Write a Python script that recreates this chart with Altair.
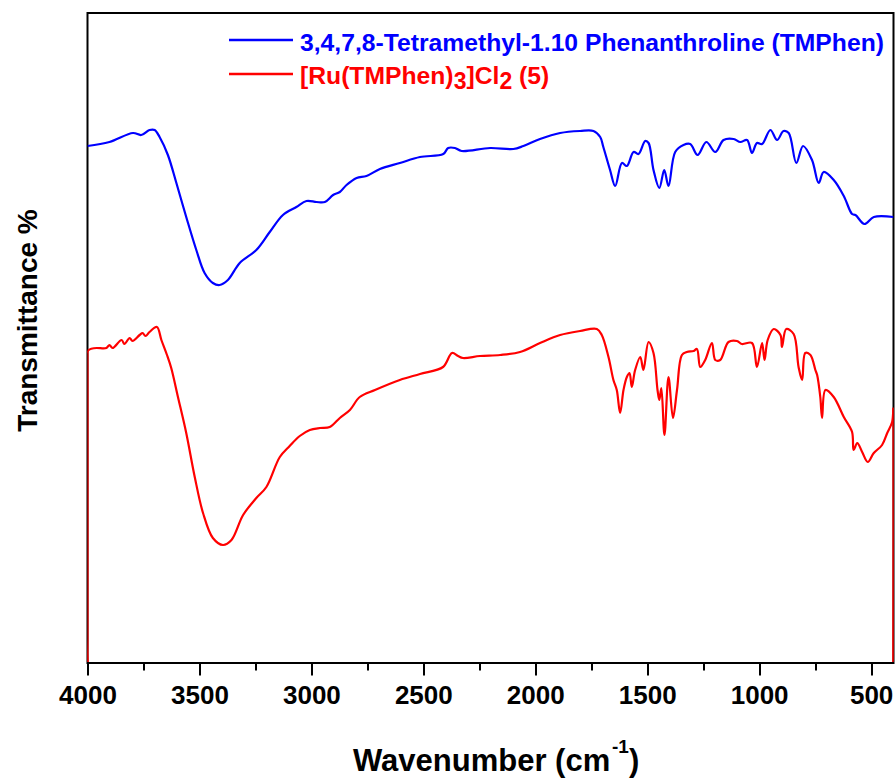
import altair as alt
import pandas as pd

# FTIR spectra: free ligand (upper trace) and its Ru(II) complex (lower trace)
SERIES = [
    "3,4,7,8-Tetramethyl-1.10 Phenanthroline (TMPhen)",
    "[Ru(TMPhen)3]Cl2 (5)",
]
COLORS = ["#0000ff", "#ff0000"]

tmphen_wn = [4000, 3902, 3797, 3760, 3723, 3700, 3678, 3641, 3603, 3559,
             3514, 3477, 3440, 3410, 3373, 3320, 3246, 3186, 3127, 3067,
             3022, 2977, 2940, 2903, 2873, 2843, 2798, 2754, 2694, 2605,
             2515, 2411, 2389, 2359, 2329, 2202, 2098, 2053, 1979, 1889,
             1800, 1740, 1710, 1696, 1666, 1643, 1613, 1591, 1561, 1539,
             1509, 1494, 1472, 1446, 1424, 1405, 1375, 1338, 1308, 1275,
             1236, 1196, 1159, 1114, 1084, 1054, 1032, 1010, 987, 950,
             920, 891, 868, 834, 804, 764, 734, 712, 667, 622,
             585, 570, 530, 488, 400]
tmphen_t = [51.6, 52.0, 52.9, 52.7, 53.2, 53.2, 52.5, 50.7, 47.9, 44.5,
            41.2, 38.9, 37.9, 37.7, 38.2, 39.9, 41.2, 43.0, 44.7, 45.5,
            46.1, 46.0, 46.0, 46.7, 47.0, 47.7, 48.4, 48.6, 49.3, 49.9,
            50.5, 50.8, 51.4, 51.4, 51.1, 51.4, 51.3, 51.6, 52.3, 52.9,
            53.1, 53.1, 52.5, 51.5, 49.2, 47.6, 49.9, 49.6, 51.0, 50.8,
            52.1, 51.9, 49.2, 47.4, 49.2, 47.6, 51.0, 51.7, 51.8, 50.7,
            52.0, 51.0, 52.2, 52.3, 52.0, 52.2, 50.9, 51.9, 51.8, 53.2,
            52.2, 53.1, 52.9, 49.9, 51.6, 50.2, 47.9, 49.0, 48.2, 46.6,
            44.8, 44.7, 43.8, 44.5, 44.5]

complex_wn = [4000, 4000, 3916, 3902, 3888, 3848, 3835, 3812, 3799, 3767,
              3754, 3741, 3723, 3690, 3670, 3645, 3626, 3596, 3559, 3521,
              3484, 3440, 3395, 3357, 3305, 3246, 3201, 3141, 3097, 3052,
              3007, 2962, 2918, 2873, 2828, 2784, 2716, 2605, 2515, 2412,
              2372, 2345, 2323, 2247, 2157, 2068, 1979, 1889, 1800, 1725,
              1703, 1673, 1651, 1636, 1621, 1606, 1591, 1579, 1569, 1554,
              1531, 1517, 1494, 1472, 1454, 1446, 1437, 1423, 1405, 1385,
              1367, 1345, 1323, 1293, 1278, 1263, 1241, 1211, 1196, 1174,
              1137, 1099, 1077, 1032, 1010, 987, 976, 962, 935, 905,
              898, 879, 846, 824, 808, 794, 771, 749, 741, 727,
              719, 704, 667, 622, 585, 578, 562, 540, 515, 488,
              451, 428, 406, 400, 400]
complex_t = [0.0, 31.1, 31.4, 31.7, 31.4, 32.2, 31.8, 32.4, 32.1, 32.7,
             32.9, 32.6, 33.0, 33.5, 32.2, 30.7, 29.4, 26.5, 22.9, 18.5,
             14.9, 12.4, 11.7, 12.2, 14.7, 16.4, 17.5, 20.5, 21.6, 22.6,
             23.2, 23.4, 23.5, 24.4, 25.2, 26.5, 27.2, 28.2, 28.8, 29.5,
             30.9, 30.6, 30.4, 30.6, 30.7, 31.0, 31.9, 32.7, 33.1, 33.3,
             32.7, 30.5, 28.2, 27.2, 24.9, 27.2, 28.5, 28.9, 27.5, 29.2,
             30.5, 29.2, 32.0, 30.9, 27.2, 26.2, 27.4, 22.7, 28.5, 24.4,
             27.2, 30.7, 31.0, 31.1, 31.3, 29.5, 30.2, 31.9, 30.2, 30.2,
             32.0, 32.1, 31.8, 31.9, 29.5, 31.9, 30.2, 32.2, 33.3, 32.7,
             31.5, 33.3, 32.8, 29.5, 28.2, 30.9, 30.7, 29.2, 28.7, 26.5,
             24.4, 27.2, 26.5, 24.5, 23.0, 21.2, 21.9, 21.0, 20.0, 20.9,
             21.7, 22.9, 24.0, 25.4, 0.0]

MAJOR_TICKS = [4000, 3500, 3000, 2500, 2000, 1500, 1000, 500]
MINOR_TICKS = [3750, 3250, 2750, 2250, 1750, 1250, 750]

FONT = "Liberation Sans"
W, H = 806, 650
LEFT, TOP = 87.5, 13

ligand = pd.DataFrame({"wavenumber": tmphen_wn, "transmittance": tmphen_t,
                       "series": SERIES[0], "idx": range(len(tmphen_wn))})
complex_ = pd.DataFrame({"wavenumber": complex_wn, "transmittance": complex_t,
                         "series": SERIES[1], "idx": range(len(complex_wn))})
last = len(complex_wn) - 1

x_scale = alt.Scale(domain=[4000, 400], nice=False, zero=False)
y_scale = alt.Scale(domain=[-0.1, 64.9], nice=False, zero=False)
color_scale = alt.Scale(domain=SERIES, range=COLORS)

major_axis = alt.Axis(values=MAJOR_TICKS, orient="bottom", title=None, grid=False,
                      format="d", domain=False, tickSize=12, tickWidth=2,
                      tickColor="black", labelFont=FONT, labelFontSize=26,
                      labelFontWeight="bold", labelColor="black", labelPadding=7,
                      labelFlush=False, labelOverlap=False, labelBound=False)
minor_axis = alt.Axis(values=MINOR_TICKS, orient="bottom", title=None, grid=False,
                      domain=False, tickSize=7, tickWidth=2, tickColor="black",
                      labels=False)


def trace(df, axis):
    return alt.Chart(df).mark_line(
        strokeWidth=2.2, clip=True, interpolate="catmull-rom"
    ).encode(
        x=alt.X("wavenumber:Q", scale=x_scale, axis=axis),
        y=alt.Y("transmittance:Q", scale=y_scale, axis=None),
        color=alt.Color("series:N", scale=color_scale, legend=None),
        order=alt.Order("idx:Q"),
    )


# straight drops of the complex's trace at both ends of the scan
edges = alt.Chart(complex_).transform_filter(
    f"datum.idx <= 1 || datum.idx >= {last - 1}"
).transform_calculate(
    end="datum.idx <= 1 ? 'start' : 'end'"
).mark_line(strokeWidth=2.2, clip=True).encode(
    x=alt.X("wavenumber:Q", scale=x_scale, axis=None),
    y=alt.Y("transmittance:Q", scale=y_scale, axis=None),
    color=alt.Color("series:N", scale=color_scale, legend=None),
    detail="end:N",
    order=alt.Order("idx:Q"),
)


def text(label, x, y, size, color="black", angle=0, align="left"):
    return alt.Chart(pd.DataFrame({"label": [label]})).mark_text(
        font=FONT, fontSize=size, fontWeight="bold", color=color,
        align=align, baseline="alphabetic", angle=angle,
    ).encode(text="label:N", x=alt.value(x), y=alt.value(y))


def swatch(color, y):
    return alt.Chart(pd.DataFrame({"c": [color]})).mark_rule(
        color=color, strokeWidth=2.5
    ).encode(x=alt.value(229 - LEFT), x2=alt.value(293 - LEFT), y=alt.value(y))


# legend entries (the complex's formula carries subscripts)
leg_x = 300 - LEFT
fs = 24.7
legend = [
    swatch(COLORS[0], 40 - TOP),
    text(SERIES[0], leg_x, 51 - TOP, fs, COLORS[0]),
    swatch(COLORS[1], 74 - TOP),
    text("[Ru(TMPhen)", leg_x, 84 - TOP, fs, COLORS[1]),
    text("3", leg_x + 153.7, 89 - TOP, 23, COLORS[1]),
    text("]Cl", leg_x + 166.5, 84 - TOP, fs, COLORS[1]),
    text("2", leg_x + 199.4, 89 - TOP, 23, COLORS[1]),
    text("(5)", leg_x + 212.2 + 6.9, 84 - TOP, fs, COLORS[1]),
]

# axis titles
titles = [
    text("Wavenumber (cm", 353 - LEFT, 771 - TOP, 31),
    text("-1", 612 - LEFT, 753 - TOP, 19),
    text(")", 629 - LEFT, 771 - TOP, 31),
    text("Transmittance %", 37 - LEFT, 320.5 - TOP, 28, angle=270, align="center"),
]

chart = alt.layer(
    trace(ligand, major_axis),
    trace(complex_, minor_axis),
    edges,
    *legend,
    *titles,
).resolve_axis(x="independent").properties(
    width=W, height=H,
    autosize=alt.AutoSizeParams(type="none"),
    padding={"left": LEFT, "top": TOP, "right": 896 - LEFT - W, "bottom": 782 - TOP - H},
    background="white",
).configure_view(stroke="black", strokeWidth=2)

chart.save("out.html", embed_options={"renderer": "svg", "actions": False})
